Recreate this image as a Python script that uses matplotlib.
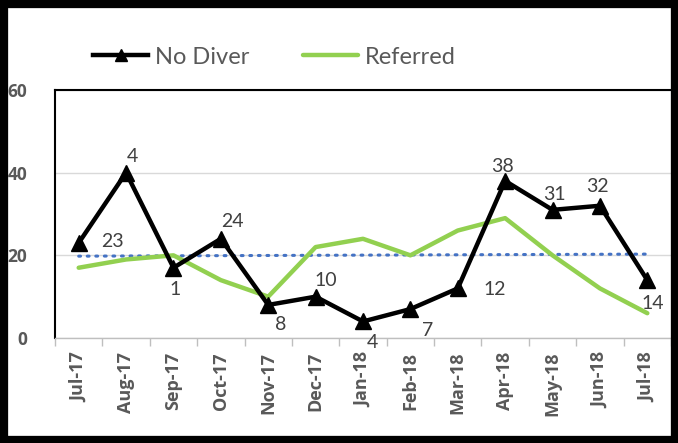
import matplotlib
matplotlib.use("Agg")
import matplotlib.pyplot as plt
from matplotlib.patches import Rectangle

months = ["Jul-17", "Aug-17", "Sep-17", "Oct-17", "Nov-17", "Dec-17", "Jan-18",
          "Feb-18", "Mar-18", "Apr-18", "May-18", "Jun-18", "Jul-18"]
no_diver = [23, 40, 17, 24, 8, 10, 4, 7, 12, 38, 31, 32, 14]
no_diver_labels = ["23", "4", "1", "24", "8", "10", "4", "7", "12", "38", "31", "32", "14"]
referred = [17, 19, 20, 14, 10, 22, 24, 20, 26, 29, 20, 12, 6]
trend_ends = [19.8, 20.3]
yticks = [0, 20, 40, 60]

# label offsets in pixels (style)
offsets = [(34, 1), (6, 16), (2, -22), (12, 17), (12, -20), (10, 16), (9, -21),
           (17, -21), (37, -1), (-3, 14), (2, 15), (-2, 19), (5, -23)]

W, H = 678, 443
fig = plt.figure(figsize=(W / 100, H / 100), dpi=100)
ax = fig.add_axes([55 / W, 1 - 338 / H, (671 - 55) / W, (338 - 90) / H])

x = list(range(len(months)))
gray = "#595959"
font = "Lato"
bfont = "Open Sans"

ax.plot([x[0], x[-1]], trend_ends, color="#4472C4", lw=2.2, ls=(0, (0.6, 2.2)),
        dash_capstyle="round", zorder=2)
ax.plot(x, referred, color="#92D050", lw=3.2, solid_capstyle="round", zorder=3, label="Referred")
ax.plot(x, no_diver, color="black", lw=3.2, marker="^", markersize=11, zorder=4, label="No Diver")

for xi, yi, lab, (dx, dy) in zip(x, no_diver, no_diver_labels, offsets):
    ax.annotate(lab, (xi, yi), xytext=(dx * 0.72, dy * 0.72), textcoords="offset points",
                ha="center", va="center", fontsize=14, color="#404040", family=font, zorder=5)

ax.set_xlim(-0.5, len(months) - 0.5)
ax.set_ylim(0, 60)
ax.set_yticks(yticks)
ax.set_yticklabels([str(v) for v in yticks], fontsize=12.5, fontweight="bold", color=gray, family=bfont)
ax.tick_params(axis="y", length=0, pad=20)
ax.set_xticks(x)
ax.set_xticklabels(months, rotation=90, fontsize=13, fontweight="bold", color=gray, family=bfont)
ax.set_xticks([i - 0.5 for i in range(len(months) + 1)], minor=True)
ax.tick_params(axis="x", which="major", length=0, pad=10)
ax.tick_params(axis="x", which="minor", length=6, color="#BFBFBF", width=1)

ax.grid(axis="y", color="#D9D9D9", lw=1)
ax.set_axisbelow(True)
for s in ["left", "top"]:
    ax.spines[s].set_color("black")
    ax.spines[s].set_linewidth(1.5)
ax.spines["right"].set_visible(False)
ax.spines["bottom"].set_color("#BFBFBF")
ax.spines["bottom"].set_linewidth(1)

handles, labels = ax.get_legend_handles_labels()
leg = fig.legend(handles[::-1], labels[::-1], ncol=2, loc="center", bbox_to_anchor=(0.405, 1 - 57 / H),
                 frameon=False, handlelength=2.3, columnspacing=2.3, handletextpad=0.3,
                 markerscale=0.8, prop={"family": font, "size": 17})
for t in leg.get_texts():
    t.set_color(gray)

fig.patches.append(Rectangle((0, 0), 1, 1, transform=fig.transFigure, fill=False,
                             edgecolor="black", lw=11, zorder=10))

fig.savefig("out.png", dpi=100, facecolor="white")
